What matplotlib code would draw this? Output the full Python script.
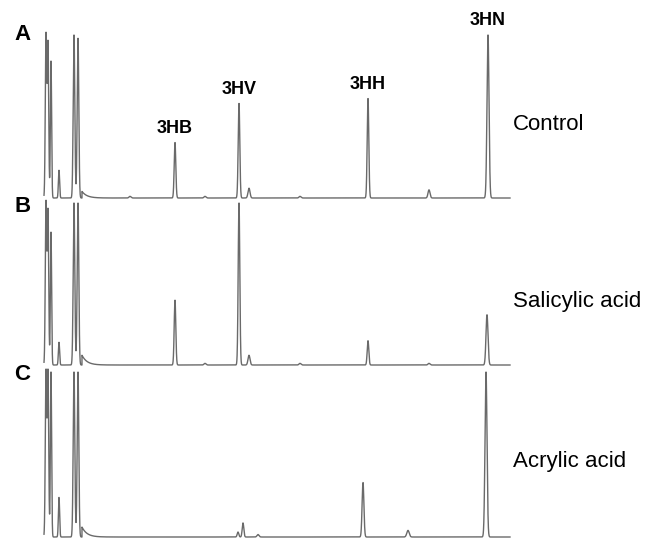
import numpy as np
import matplotlib
matplotlib.use("Agg")
import matplotlib.pyplot as plt

plt.rcParams['font.family'] = ['Liberation Sans', 'DejaVu Sans']

# Retention positions (arbitrary units) and relative heights
panel_letters = ["A", "B", "C"]
sample_names = ["Control", "Salicylic acid", "Acrylic acid"]

pos_A = [46, 48, 51, 59, 74, 78, 82, 130, 175, 205, 239, 249, 300, 368, 429, 488]
hgt_A = [1.00, 0.95, 0.84, 0.17, 1.00, 0.98, 0.04, 0.01, 0.34, 0.01, 0.58, 0.06, 0.01, 0.61, 0.05, 1.00]
wid_A = [0.7, 0.7, 0.6, 0.6, 0.8, 0.8, 5.0, 1.0, 0.8, 1.0, 0.8, 1.0, 1.0, 0.8, 1.0, 1.0]

pos_B = [46, 48, 51, 59, 74, 78, 82, 175, 205, 239, 249, 300, 368, 429, 487]
hgt_B = [1.00, 0.95, 0.82, 0.14, 1.00, 1.00, 0.06, 0.40, 0.01, 1.00, 0.06, 0.01, 0.15, 0.01, 0.31]
wid_B = [0.7, 0.7, 0.6, 0.6, 0.8, 0.8, 5.0, 0.8, 1.0, 0.8, 1.0, 1.0, 0.8, 1.0, 1.0]

pos_C = [46, 48, 51, 59, 74, 78, 82, 238, 243, 258, 363, 408, 486]
hgt_C = [1.00, 1.00, 1.00, 0.24, 1.00, 1.00, 0.06, 0.03, 0.085, 0.015, 0.33, 0.04, 1.00]
wid_C = [0.7, 0.7, 0.6, 0.6, 0.8, 0.8, 5.0, 0.8, 0.8, 1.0, 0.9, 1.2, 1.0]

peak_labels = ["3HB", "3HV", "3HH", "3HN"]
label_pos = [175, 239, 368, 488]
label_hgt = [0.34, 0.58, 0.61, 1.00]

panels = [(pos_A, hgt_A, wid_A), (pos_B, hgt_B, wid_B), (pos_C, hgt_C, wid_C)]

W, H = 646, 538
fig = plt.figure(figsize=(W / 100, H / 100), dpi=100)

# pixel bounds (top, bottom) of each trace
bounds = [(35, 198), (203, 365), (372, 537)]
x0, x1 = 44, 510
t = np.linspace(x0, x1, 9000)

for i, ((p, h, w), (top, bot)) in enumerate(zip(panels, bounds)):
    ax = fig.add_axes([x0 / W, 1 - bot / H, (x1 - x0) / W, (bot - top) / H])
    y = np.zeros_like(t)
    for pp, hh, ww in zip(p, h, w):
        if ww > 3:
            # solvent tail: one-sided decay
            tail = np.where(t >= pp, np.exp(-(t - pp) / ww), 0.0)
            y += hh * tail
        else:
            y += hh * np.exp(-0.5 * ((t - pp) / ww) ** 2)
    ax.plot(t, y, color='#6a6a6a', lw=1.0, clip_on=False)
    ax.set_xlim(x0, x1)
    ax.set_ylim(0, 1)
    ax.axis('off')
    if i == 0:
        for lab, lp, lh in zip(peak_labels, label_pos, label_hgt):
            ax.annotate(lab, (lp, lh), xytext=(0, 4), textcoords='offset points',
                        ha='center', va='bottom', fontsize=13, fontweight='bold')

letter_y = [34, 207, 375]
for lab, yy in zip(panel_letters, letter_y):
    fig.text(14 / W, 1 - yy / H, lab, fontsize=16, fontweight='bold', ha='left', va='center')

name_y = [124, 302, 462]
for name, yy in zip(sample_names, name_y):
    fig.text(513 / W, 1 - yy / H, name, fontsize=16, ha='left', va='center')

fig.savefig("out.png", dpi=100)
